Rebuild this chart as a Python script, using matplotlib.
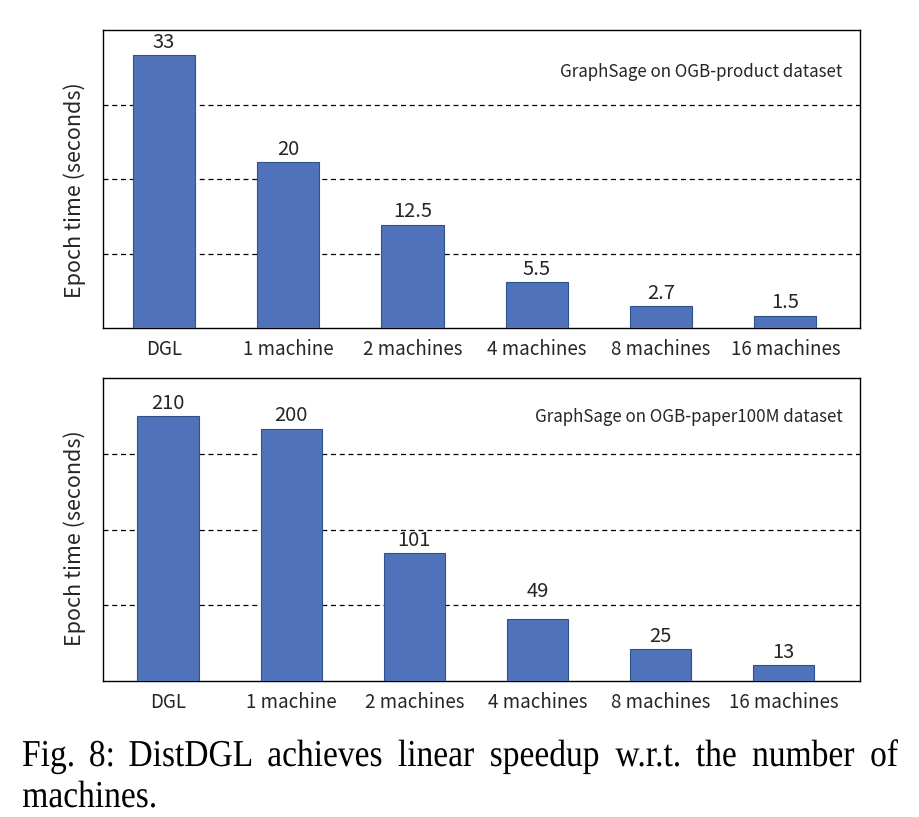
import matplotlib
matplotlib.use("Agg")
import matplotlib.pyplot as plt
from matplotlib.textpath import TextPath
from matplotlib.patches import PathPatch
from matplotlib.font_manager import FontProperties
from matplotlib.transforms import Affine2D, IdentityTransform

categories = ["DGL", "1 machine", "2 machines", "4 machines", "8 machines", "16 machines"]
product_times = [33, 20, 12.5, 5.5, 2.7, 1.5]
product_labels = ["33", "20", "12.5", "5.5", "2.7", "1.5"]
paper_times = [210, 200, 101, 49, 25, 13]
paper_labels = ["210", "200", "101", "49", "25", "13"]
top_title = "GraphSage on OGB-product dataset"
bottom_title = "GraphSage on OGB-paper100M dataset"
ylabel = "Epoch time (seconds)"
caption1 = "Fig. 8: DistDGL achieves linear speedup w.r.t. the number of"
caption2 = "machines."

plt.rcParams['font.family'] = ['Noto Sans CJK SC', 'DejaVu Sans']

W, H = 919, 817
fig = plt.figure(figsize=(W / 100, H / 100), dpi=100)

def box(l, t, r, b):
    return [l / W, 1 - b / H, (r - l) / W, (b - t) / H]

bar_color = "#4F72BA"
edge_color = "#2F528F"
txt_color = "#262626"

def panel(rect, values, labels, ymax, grid, xlim, title, title_x, title_y, ylab_y):
    ax = fig.add_axes(rect)
    x = list(range(len(values)))
    ax.bar(x, values, width=0.5, color=bar_color, edgecolor=edge_color, linewidth=0.8, zorder=3)
    axes_px = rect[3] * H
    label_h = ymax * 20 / axes_px  # approx label height in data units
    for xi, v, lab in zip(x, values, labels):
        anchor, off = v, 1.5
        for g in grid:
            if v < g < v + label_h:
                anchor, off = g, 2.0
        ax.annotate(lab, (xi, anchor), xytext=(0, off), textcoords="offset points",
                    ha="center", va="bottom", fontsize=14.5, color=txt_color)
    for g in grid:
        ax.axhline(g, color="black", linestyle=(0, (4, 3)), linewidth=0.9, zorder=1)
    ax.set_ylim(0, ymax)
    ax.set_xlim(*xlim)
    ax.set_xticks(x)
    ax.set_xticklabels(categories, fontsize=13.5, color=txt_color)
    ax.tick_params(axis="x", length=0, pad=8)
    ax.set_yticks([])
    ax.set_ylabel(ylabel, fontsize=15.5, color=txt_color)
    ax.yaxis.set_label_coords(-0.022, ylab_y)
    for s in ax.spines.values():
        s.set_color("black")
        s.set_linewidth(1.0)
    ax.text(title_x, title_y, title, transform=ax.transAxes, ha="right", va="center",
            fontsize=12.2, color=txt_color)
    return ax

panel(box(103, 30, 860, 328), product_times, product_labels, 36, [9, 18, 27],
      (-0.49, 5.6), top_title, 0.976, 0.859, 0.463)
panel(box(103, 378, 860, 681), paper_times, paper_labels, 240, [60, 120, 180],
      (-0.53, 5.62), bottom_title, 0.977, 0.871, 0.472)

# caption in a compressed Times-like serif, justified on the first line
prop = FontProperties(family="Liberation Serif")
SX, SY = 33.5, 38.0

def place_words(words, x0, x1, baseline, justify):
    paths = [TextPath((0, 0), w, size=1.0, prop=prop) for w in words]
    ext = [p.get_extents() for p in paths]
    widths = [(e.x1 - e.x0) * SX for e in ext]
    if justify and len(words) > 1:
        gap = (x1 - x0 - sum(widths)) / (len(words) - 1)
    else:
        gap = 0.25 * SX
    x = x0
    for p, e, w in zip(paths, ext, widths):
        tr = Affine2D().translate(-e.x0, 0).scale(SX, SY).translate(x, H - baseline)
        patch = PathPatch(tr.transform_path(p), facecolor="black", edgecolor="none",
                          transform=IdentityTransform())
        fig.add_artist(patch)
        x += w + gap

place_words(caption1.split(), 23, 898, 766, True)
place_words(caption2.split(), 23, 898, 807, False)

fig.savefig("out.png", dpi=100)
